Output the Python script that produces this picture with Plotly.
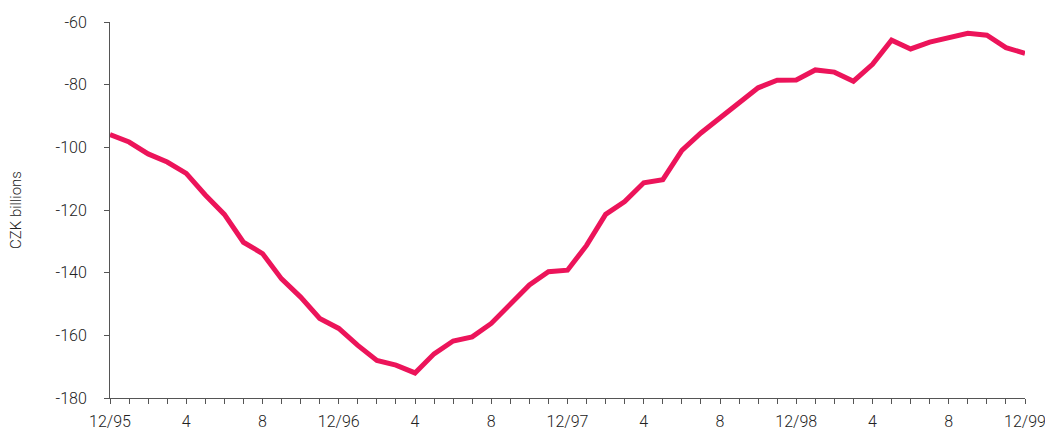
import plotly.graph_objects as go

months = list(range(49))
values = [-95.9, -98.3, -102.1, -104.7, -108.3, -115.2, -121.4, -130.3, -133.9, -142.0,
          -147.8, -154.6, -157.8, -163.2, -168.0, -169.5, -172.0, -165.9, -161.8, -160.5,
          -156.2, -150.2, -143.9, -139.7, -139.2, -131.3, -121.4, -117.3, -111.3, -110.3,
          -101.0, -95.4, -90.6, -85.8, -81.0, -78.6, -78.5, -75.3, -76.0, -78.9,
          -73.5, -65.8, -68.6, -66.4, -64.8, -63.6, -64.2, -68.2, -70.0]
tick_labels = ["12/95", "4", "8", "12/96", "4", "8", "12/97", "4", "8", "12/98", "4", "8", "12/99"]
y_ticks = [-180, -160, -140, -120, -100, -80, -60]
y_labels = ["-180", "-160", "-140", "-120", "-100", "-80", "-60"]

ticktext = []
k = 0
for m in months:
    if m % 4 == 0:
        ticktext.append(tick_labels[k]); k += 1
    else:
        ticktext.append("")

font = dict(family="Roboto, Open Sans, sans-serif", size=16, color="#222222", weight=300)

fig = go.Figure(go.Scatter(x=months, y=values, mode="lines",
                           line=dict(color="#EC145A", width=5), hoverinfo="skip"))
fig.update_layout(
    width=1045, height=433, plot_bgcolor="white", paper_bgcolor="white",
    margin=dict(l=110, r=20, t=22, b=35), showlegend=False, font=font,
)
fig.update_xaxes(range=[0, 48], tickvals=months, ticktext=ticktext, ticks="outside",
                 ticklen=5, tickcolor="#555555", showline=True, linecolor="#555555",
                 linewidth=1, showgrid=False, zeroline=False, tickfont=font,
                 automargin=False, ticklabelstandoff=4, ticklabeloverflow="allow")
fig.update_yaxes(range=[-180, -60], tickvals=y_ticks, ticktext=y_labels, ticks="outside", ticklen=5,
                 tickcolor="#555555", showline=True, linecolor="#555555", linewidth=1,
                 showgrid=False, zeroline=False, tickfont=font, ticklabelstandoff=14,
                 automargin=False, ticklabeloverflow="allow",
                 title=dict(text="CZK billions",
                            font=dict(family=font["family"], size=15, color="#222222", weight=300),
                            standoff=30))
fig.write_html("out.html", config={"displayModeBar": False},
               post_script="document.body.style.margin='0';document.body.style.overflow='hidden';")
